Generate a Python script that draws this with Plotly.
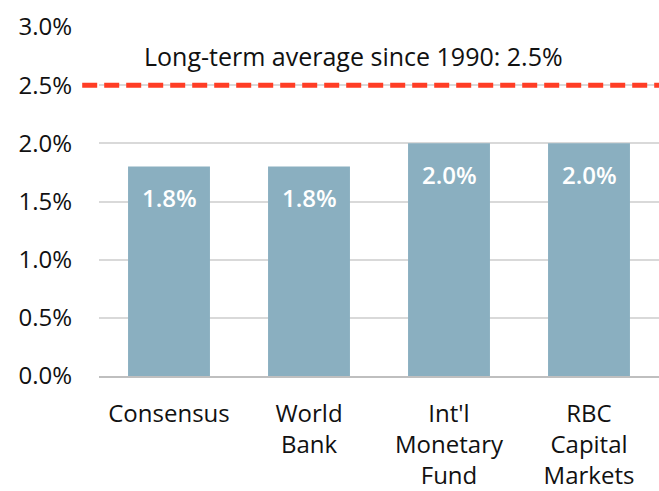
import plotly.graph_objects as go

categories = ["Consensus", "World<br>Bank", "Int'l<br>Monetary<br>Fund", "RBC<br>Capital<br>Markets"]
values = [1.8, 1.8, 2.0, 2.0]
bar_labels = ["1.8%", "1.8%", "2.0%", "2.0%"]
long_term_avg = 2.5
avg_label = "Long-term average since 1990: 2.5%"
y_ticks = [0, 0.5, 1.0, 1.5, 2.0, 2.5, 3.0]
y_ticktext = ["0.0%", "0.5%", "1.0%", "1.5%", "2.0%", "2.5%", "3.0%"]

FONT = "Open Sans"

fig = go.Figure()
fig.add_trace(go.Bar(
    x=categories, y=values,
    marker=dict(color="#8AAFC0", line=dict(width=0)),
    hoverinfo="skip",
))

for cat, val, lab in zip(categories, values, bar_labels):
    fig.add_annotation(x=cat, y=val, text=lab, showarrow=False, yanchor="middle",
                       yshift=-31,
                       font=dict(size=24, color="white", family=FONT, weight=600))

fig.add_shape(type="line", xref="paper", yref="y", x0=-0.03, x1=1.0,
              y0=long_term_avg, y1=long_term_avg,
              line=dict(color="#FF3D25", width=5, dash="15px,7px"), layer="above")

fig.add_annotation(xref="paper", yref="y", x=0.455, y=2.75, text=avg_label,
                   showarrow=False, font=dict(size=25, color="#111111", family=FONT))

fig.update_layout(
    width=659, height=491,
    margin=dict(l=99, r=0, t=27, b=115),
    plot_bgcolor="white", paper_bgcolor="white",
    bargap=0.415,
    showlegend=False,
    font=dict(family=FONT, size=24, color="#111111"),
)
fig.update_yaxes(range=[0, 3.0], tickvals=y_ticks, ticktext=y_ticktext,
                 showgrid=True, gridcolor="#D9D9D9", gridwidth=1.5,
                 zeroline=False, showline=False, ticks="", ticklabelstandoff=26,
                 automargin=False,
                 tickfont=dict(size=24, family=FONT, color="#111111"))
fig.update_xaxes(showline=True, linecolor="#BFBFBF", linewidth=2, ticks="",
                 ticklabelstandoff=15, automargin=False,
                 tickfont=dict(size=24, family=FONT, color="#111111"))

fig.write_html("out.html", config={"displayModeBar": False},
               post_script="document.body.style.margin='0';")
